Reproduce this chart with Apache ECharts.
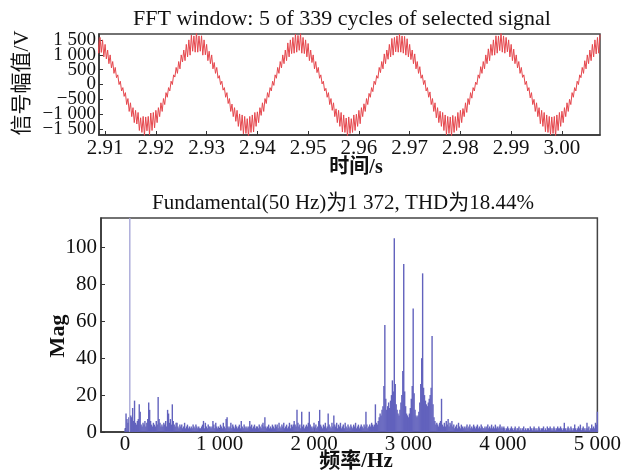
<!DOCTYPE html>
<html><head><meta charset="utf-8">
<script src="https://cdn.jsdelivr.net/npm/echarts@6/dist/echarts.min.js"></script>
<style>html,body{margin:0;padding:0;background:#fff}#c{width:624px;height:475px}</style>
</head><body><div id="c"></div>
<script>
// ---- top panel: time signal (sample grid: start + i*step) ----
const signalStart = 2.9085;
const signalStep = 0.00025;
const signalValues = [
  // cycle 0 (partial)
  1635, 1054, 1585, 1080, 1502, 930, 1350, 860, 1160, 701,
  996, 560, 773, 375, 574, 230, 325, -2, 110, -218,
  -105, -400, -274, -675, -473, -907, -616, -1081, -780, -1283,
  -870, -1330, -942, -1548, -1120, -1614, -1075, -1720, -1092, -1560,
  -1075, -1690, -960, -1548, -942, -1460, -870, -1283, -780, -1081,
  -616, -907, -473, -675, -274, -430, -105, -218, 110, -2,
  325, 250, 574, 375, 773, 527, 996, 760, 1160, 803,
  1350, 930, 1502, 988, 1660, 1120, 1635, 1088,
  // cycle 1
  1760, 1088, 1635, 1120, 1640, 988, 1502, 1000, 1350, 803,
  1120, 701, 996, 527, 740, 375, 574, 210, 300, -2,
  110, -190, -105, -430, -274, -640, -473, -907, -660, -1081,
  -780, -1240, -870, -1410, -990, -1548, -1025, -1660, -1075, -1648,
  -1150, -1780, -1075, -1614, -1025, -1600, -942, -1410, -920, -1283,
  -780, -1040, -616, -907, -473, -640, -274, -430, -105, -218,
  110, -30, 325, 210, 574, 375, 773, 560, 996, 701,
  1160, 803, 1400, 930, 1502, 1040, 1585, 1054, 1700, 1088,
  // cycle 2
  1652, 1150, 1720, 1054, 1585, 1040, 1502, 930, 1380, 803,
  1160, 740, 996, 527, 773, 400, 574, 210, 325, 20,
  110, -218, -130, -430, -274, -675, -473, -870, -616, -1081,
  -820, -1283, -870, -1410, -942, -1600, -1025, -1614, -1130, -1760,
  -1092, -1648, -1150, -1614, -1025, -1548, -1000, -1410, -870, -1320,
  -780, -1081, -650, -907, -473, -675, -300, -430, -105, -240,
  110, -2, 300, 210, 574, 400, 773, 527, 1030, 701,
  1160, 850, 1350, 930, 1550, 988, 1585, 1100, 1635, 1088,
  // cycle 3
  1700, 1088, 1635, 1054, 1620, 988, 1540, 930, 1350, 840,
  1160, 701, 1030, 527, 773, 375, 600, 210, 325, -2,
  140, -218, -105, -430, -250, -675, -473, -907, -616, -1120,
  -780, -1283, -900, -1410, -942, -1548, -1025, -1700, -1075, -1648,
  -1092, -1740, -1040, -1614, -1080, -1548, -942, -1450, -870, -1283,
  -810, -1081, -616, -940, -473, -675, -274, -460, -105, -218,
  80, -2, 325, 210, 600, 375, 773, 527, 996, 701,
  1200, 803, 1350, 980, 1502, 988, 1640, 1054, 1635, 1140,
  // cycle 4 (partial)
  1740, 1088, 1635, 1054, 1585, 1100, 1502, 930, 1350, 803,
  1190, 701, 996, 560, 773, 375, 574, 240, 325, -2,
  110, -218, -105, -450, -274, -675, -500, -907, -616, -1081,
  -780, -1320, -870, -1410, -942, -1590, -1025, -1614, -1075, -1700,
  -1092, -1648, -1075, -1760, -1025, -1548, -942, -1410, -900, -1283,
  -780, -1081, -616, -907, -500, -675, -274, -430, -105, -218,
  110, -2, 325, 230, 574, 375, 800, 527, 996, 701,
  1160, 803, 1350, 930, 1502, 1030, 1585, 1054, 1680
];
const timeTicks = [2.91, 2.92, 2.93, 2.94, 2.95, 2.96, 2.97, 2.98, 2.99, 3.00];
const voltTicks = [-1500, -1000, -500, 0, 500, 1000, 1500];
const voltLabelsOdd = [-1500, -500, 500, 1500];
const voltLabelsEven = [-1000, 0, 1000];

// ---- bottom panel: FFT magnitude, bins every 10 Hz from 0 to 5000 ----
const freqStep = 10;
const fftMag = [
  2, 10, 7, 5, 8, 1372, 9, 8, 13, 6,
  17, 5, 4, 6, 7, 15, 11, 4, 3, 5,
  4, 6, 3, 5, 7, 16, 12, 6, 4, 3,
  5, 4, 3, 6, 4, 19, 7, 5, 3, 4,
  3, 5, 4, 6, 3, 12, 10, 5, 7, 4,
  15, 6, 4, 3, 5, 5, 3, 2, 4, 3,
  4, 2, 3, 5, 2, 3, 4, 2, 3, 2,
  3, 2, 4, 3, 2, 4, 3, 2, 3, 2,
  2, 3, 4, 6, 2, 5, 3, 2, 4, 3,
  3, 2, 3, 6, 4, 2, 5, 3, 2, 3,
  2, 4, 3, 2, 5, 3, 2, 7, 8, 3,
  2, 3, 5, 2, 4, 3, 2, 4, 3, 2,
  3, 4, 2, 6, 3, 2, 4, 3, 2, 3,
  2, 3, 6, 3, 4, 2, 3, 4, 2, 3,
  3, 2, 4, 3, 2, 4, 5, 3, 8, 3,
  2, 3, 4, 2, 3, 2, 4, 3, 2, 4,
  3, 4, 2, 5, 3, 2, 4, 3, 5, 2,
  3, 4, 2, 3, 5, 2, 4, 3, 4, 6,
  4, 3, 12, 5, 3, 4, 2, 11, 3, 4,
  2, 3, 4, 3, 5, 11, 4, 3, 2, 3,
  5, 3, 4, 2, 3, 6, 12, 4, 3, 2,
  4, 3, 5, 2, 3, 10, 4, 3, 2, 5,
  3, 9, 4, 3, 5, 2, 4, 3, 5, 2,
  3, 4, 2, 5, 3, 2, 4, 3, 2, 4,
  3, 2, 4, 3, 5, 2, 3, 4, 2, 3,
  4, 3, 2, 4, 3, 11, 4, 2, 3, 4,
  3, 5, 4, 3, 4, 15, 5, 4, 6, 8,
  10, 9, 12, 14, 25, 58, 18, 12, 14, 16,
  13, 17, 20, 28, 22, 105, 26, 15, 12, 10,
  9, 12, 16, 20, 33, 91, 22, 14, 10, 9,
  8, 10, 13, 18, 25, 67, 21, 12, 9, 8,
  9, 11, 16, 26, 40, 86, 24, 20, 17, 15,
  14, 16, 18, 20, 24, 52, 15, 8, 6, 4,
  5, 4, 3, 5, 6, 18, 4, 3, 5, 3,
  6, 4, 7, 3, 5, 4, 6, 3, 4, 2,
  3, 4, 2, 5, 3, 2, 4, 3, 2, 3,
  2, 3, 4, 2, 3, 4, 2, 3, 2, 4,
  3, 2, 3, 4, 2, 3, 2, 4, 3, 2,
  2, 3, 2, 3, 4, 2, 3, 2, 4, 2,
  3, 2, 4, 2, 3, 2, 3, 4, 2, 3,
  2, 3, 2, 1, 2, 3, 2, 1, 2, 3,
  2, 1, 2, 3, 1, 2, 2, 3, 1, 2,
  1, 2, 3, 1, 2, 1, 2, 2, 1, 3,
  2, 1, 2, 3, 2, 1, 2, 1, 3, 2,
  1, 2, 2, 3, 1, 2, 1, 3, 2, 2,
  3, 2, 1, 2, 3, 2, 1, 2, 3, 2,
  2, 3, 2, 1, 2, 5, 2, 1, 2, 3,
  2, 1, 3, 2, 1, 2, 4, 2, 1, 2,
  3, 2, 4, 1, 2, 3, 2, 1, 2, 5,
  2, 3, 1, 2, 4, 2, 3, 2, 5, 4,
  11
];
const freqTicks = [0, 1000, 2000, 3000, 4000, 5000];
const magTicks = [0, 20, 40, 60, 80, 100];

const topTitle = 'FFT window: 5 of 339 cycles of selected signal';
const bottomTitle = 'Fundamental(50 Hz)为1 372, THD为18.44%';

// ---- build ----
const signalData = signalValues.map((v, i) => [Number((signalStart + i * signalStep).toFixed(5)), v]);
const fftData = fftMag.map((v, i) => [i * freqStep, v]);

const serif = "'Liberation Serif','Times New Roman',serif";
const cjk = "'Liberation Serif','Noto Sans CJK SC',serif";
function grp(n) {
  const s = Math.abs(n).toString();
  const g = s.length > 3 ? s.slice(0, -3) + ' ' + s.slice(-3) : s;
  return (n < 0 ? '−' : '') + g;
}
const axisLine = { show: true, onZero: false, lineStyle: { color: '#333', width: 1.5 } };
const labelCommon = { hideOverlap: false, showMinLabel: true, showMaxLabel: true, fontFamily: serif, color: '#111' };

const chart = echarts.init(document.getElementById('c'));
chart.setOption({
  animation: false,
  backgroundColor: '#fff',
  grid: [
    { left: 99, top: 34, width: 501, height: 101, show: true, borderColor: '#444', borderWidth: 1.5 },
    { left: 101, top: 218, width: 499, height: 214, show: true, borderColor: '#444', borderWidth: 1.5 }
  ],
  xAxis: [
    { type: 'value', gridIndex: 0, min: 2.9088, max: 3.0075, axisLine,
      axisTick: { inside: true, length: 4, customValues: timeTicks, lineStyle: { color: '#333' } },
      axisLabel: Object.assign({}, labelCommon, { customValues: timeTicks, formatter: v => v.toFixed(2), fontSize: 21, margin: 3 }),
      splitLine: { show: false } },
    { type: 'value', gridIndex: 1, min: -255, max: 5000, axisLine,
      axisTick: { inside: true, length: 4, customValues: freqTicks, lineStyle: { color: '#333' } },
      axisLabel: Object.assign({}, labelCommon, { customValues: freqTicks, formatter: v => grp(v), fontSize: 21, margin: 2 }),
      splitLine: { show: false } }
  ],
  yAxis: [
    { type: 'value', gridIndex: 0, position: 'left', min: -1700, max: 1700, axisLine,
      axisTick: { inside: true, length: 4, customValues: voltTicks, lineStyle: { color: '#333' } },
      axisLabel: Object.assign({}, labelCommon, { customValues: voltLabelsOdd, formatter: v => grp(v), fontSize: 19, margin: 3 }),
      splitLine: { show: false } },
    { type: 'value', gridIndex: 1, min: 0, max: 116, axisLine,
      axisTick: { inside: true, length: 4, customValues: magTicks, lineStyle: { color: '#333' } },
      axisLabel: Object.assign({}, labelCommon, { customValues: magTicks, fontSize: 21, margin: 4 }),
      splitLine: { show: false } },
    { type: 'value', gridIndex: 0, position: 'left', offset: 0, min: -1700, max: 1700,
      axisLine: { show: false }, axisTick: { show: false },
      axisLabel: Object.assign({}, labelCommon, { customValues: voltLabelsEven, formatter: v => grp(v), fontSize: 19, margin: 3 }),
      splitLine: { show: false } }
  ],
  series: [
    { type: 'line', xAxisIndex: 0, yAxisIndex: 0, data: signalData, symbol: 'none', clip: true,
      lineStyle: { color: '#e5474d', width: 1 } },
    { type: 'bar', xAxisIndex: 1, yAxisIndex: 1, data: fftData, barWidth: 1.4, clip: true,
      itemStyle: { color: p => (p.value[1] > 200 ? '#a8a8d8' : '#6262bd') } }
  ],
  graphic: [
    { type: 'text', x: 342, y: 19, style: { text: topTitle, fontFamily: serif, fontSize: 22, fill: '#111', textAlign: 'center', textVerticalAlign: 'middle' } },
    { type: 'text', x: 343, y: 203, style: { text: bottomTitle, fontFamily: cjk, fontSize: 21, fill: '#111', textAlign: 'center', textVerticalAlign: 'middle' } },
    { type: 'text', x: 22, y: 83, rotation: Math.PI / 2, style: { text: '信号幅值/V', fontFamily: cjk, fontSize: 21, fill: '#111', textAlign: 'center', textVerticalAlign: 'middle' } },
    { type: 'text', x: 356, y: 168, style: { text: '时间/s', fontFamily: cjk, fontSize: 20, fontWeight: 'bold', fill: '#111', textAlign: 'center', textVerticalAlign: 'middle' } },
    { type: 'text', x: 58, y: 336, rotation: Math.PI / 2, style: { text: 'Mag', fontFamily: serif, fontSize: 22, fontWeight: 'bold', fill: '#111', textAlign: 'center', textVerticalAlign: 'middle' } },
    { type: 'text', x: 356, y: 462, style: { text: '频率/Hz', fontFamily: cjk, fontSize: 21, fontWeight: 'bold', fill: '#111', textAlign: 'center', textVerticalAlign: 'middle' } }
  ]
});
</script></body></html>
